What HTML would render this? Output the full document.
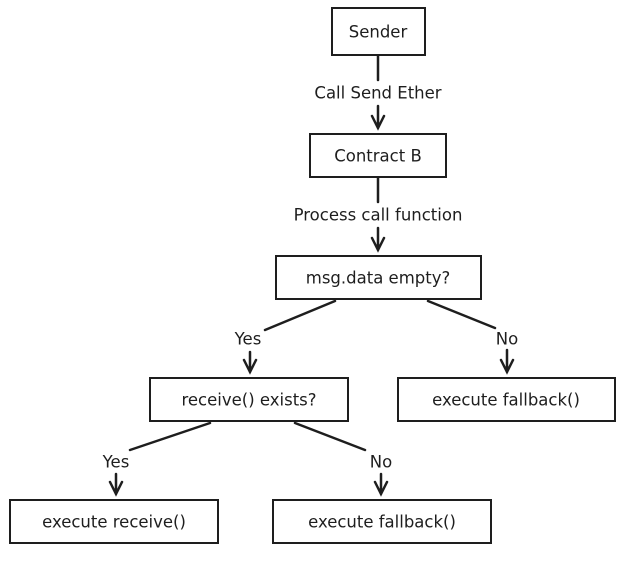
<!DOCTYPE html>
<html><head><style>
body{margin:0;background:#fff;width:626px;height:556px;overflow:hidden}
svg text{font-family:"Comic Sans MS","DejaVu Sans",sans-serif;font-size:16.5px;fill:#1e1e1e;text-anchor:middle;dominant-baseline:middle}
</style></head><body>
<svg width="626" height="556" viewBox="0 0 626 556">
<g fill="#fff" stroke="#1e1e1e" stroke-width="2">
<rect x="332" y="8" width="93" height="47"/>
<rect x="310" y="134" width="136" height="43"/>
<rect x="276" y="256" width="205" height="43"/>
<rect x="150" y="378" width="198" height="43"/>
<rect x="398" y="378" width="217" height="43"/>
<rect x="10" y="500" width="208" height="43"/>
<rect x="273" y="500" width="218" height="43"/>
</g>
<g fill="none" stroke="#1e1e1e" stroke-width="2.5" stroke-linecap="round">
<path d="M378 56V80M378 106V128M372 116L378 128L384 116"/>
<path d="M378 178V202M378 228V250M372 238L378 250L384 238"/>
<path d="M335 301L265 330M250 352V372M244 360L250 372L256 360"/>
<path d="M428 301L495 328M507 350V372M501 360L507 372L513 360"/>
<path d="M210 423L130 450M116 474V494M110 482L116 494L122 482"/>
<path d="M295 423L365 450M381 474V494M375 482L381 494L387 482"/>
</g>
<text x="378" y="33">Sender</text>
<text x="378" y="94">Call Send Ether</text>
<text x="378" y="157">Contract B</text>
<text x="378" y="216">Process call function</text>
<text x="378" y="279">msg.data empty?</text>
<text x="248" y="340">Yes</text>
<text x="507" y="340">No</text>
<text x="249" y="401">receive() exists?</text>
<text x="506" y="401">execute fallback()</text>
<text x="116" y="463">Yes</text>
<text x="381" y="463">No</text>
<text x="114" y="523">execute receive()</text>
<text x="382" y="523">execute fallback()</text>
</svg>
</body></html>
